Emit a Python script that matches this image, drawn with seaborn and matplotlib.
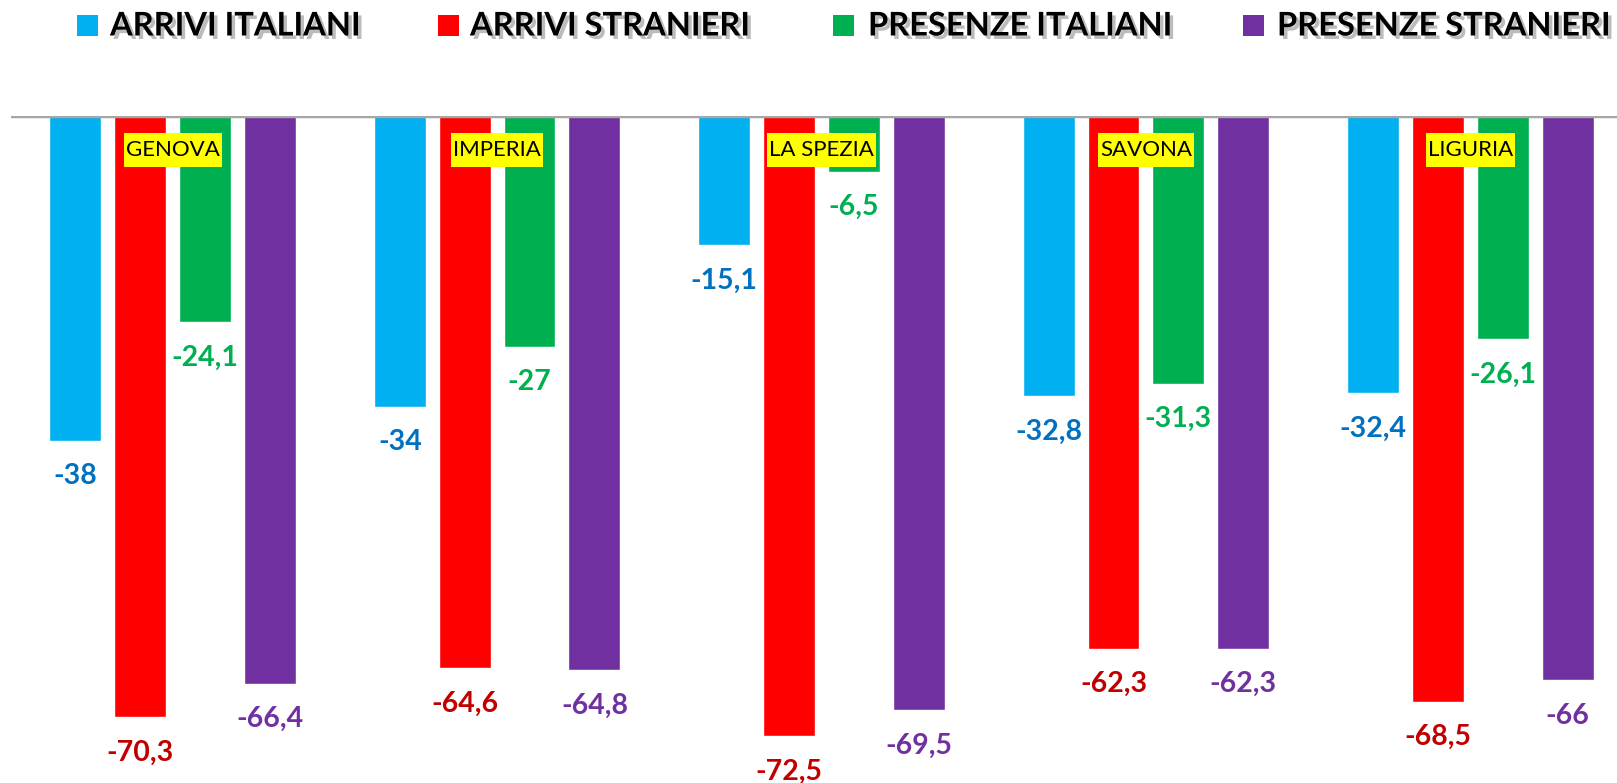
import matplotlib
matplotlib.use("Agg")
import matplotlib.pyplot as plt
import matplotlib.patheffects as pe
from matplotlib.patches import Rectangle
import seaborn as sns
import pandas as pd

categories = ["GENOVA", "IMPERIA", "LA SPEZIA", "SAVONA", "LIGURIA"]
series_names = ["ARRIVI ITALIANI", "ARRIVI STRANIERI", "PRESENZE ITALIANI", "PRESENZE STRANIERI"]
arrivi_italiani = [-38, -34, -15.1, -32.8, -32.4]
arrivi_stranieri = [-70.3, -64.6, -72.5, -62.3, -68.5]
presenze_italiani = [-24.1, -27, -6.5, -31.3, -26.1]
presenze_stranieri = [-66.4, -64.8, -69.5, -62.3, -66]

bar_colors = ["#00B0F0", "#FF0000", "#00B050", "#7030A0"]
label_colors = ["#0070C0", "#C00000", "#00B050", "#7030A0"]

values = [arrivi_italiani, arrivi_stranieri, presenze_italiani, presenze_stranieri]
rows = []
for s, vals in zip(series_names, values):
    for c, v in zip(categories, vals):
        rows.append({"cat": c, "serie": s, "val": v})
df = pd.DataFrame(rows)

sns.set_style("white")
plt.rcParams["font.family"] = ["Lato", "DejaVu Sans"]

W, H = 1617, 783
fig = plt.figure(figsize=(W / 100, H / 100), dpi=100)
ax = fig.add_axes([10.5 / W, 0, 1622 / W, 667 / H])

sns.barplot(data=df, x="cat", y="val", hue="serie", order=categories,
            hue_order=series_names, palette=bar_colors, width=0.8, gap=0.2,
            saturation=1, ax=ax, legend=True)

ax.set_xlim(-0.5, 4.5)
ax.set_ylim(-78, 0)
ax.set_xlabel("")
ax.set_ylabel("")
ax.set_xticks([])
ax.set_yticks([])
for sp in ax.spines.values():
    sp.set_visible(False)
ax.axhline(0, color="#A6A6A6", lw=2.5, zorder=5)

# value labels
for cont, col in zip(ax.containers, label_colors):
    for b in cont:
        lab = ("%g" % b.get_height()).replace(".", ",")
        ax.annotate(lab, (b.get_x() + b.get_width() / 2, b.get_height()),
                    xytext=(0, -25.5), textcoords="offset points",
                    ha="center", va="center", fontsize=20.5, fontweight="bold",
                    color=col)

# category labels with yellow boxes
renderer = fig.canvas.get_renderer()
cat_texts = []
for i, c in enumerate(categories):
    t = ax.annotate(c, (i, 0), xytext=(0, -24.5), textcoords="offset points",
                    ha="center", va="center", fontsize=16, color="black", zorder=7)
    cat_texts.append(t)
for t in cat_texts:
    bb = t.get_window_extent(renderer)
    cx = (bb.x0 + bb.x1) / 2
    wpx = bb.width + 4
    hpx = 34
    cy = H - 150
    rect = Rectangle(((cx - wpx / 2) / W, (cy - hpx / 2) / H), wpx / W, hpx / H,
                     transform=fig.transFigure, facecolor="#FFFF00", edgecolor="none",
                     zorder=6)
    ax.add_artist(rect)
    rect.set_clip_on(False)

# legend (drawn manually at reference positions)
ax.legend_.remove()
sq_x = [77, 438, 833, 1243]
tx_x = [110, 470, 868, 1277]
for name, col, sx, tx in zip(series_names, bar_colors, sq_x, tx_x):
    fig.patches.append(Rectangle((sx / W, 1 - 36 / H), 21 / W, 21 / H,
                                 transform=fig.transFigure, facecolor=col,
                                 edgecolor="none"))
    fig.text(tx / W, 1 - 26 / H, name, ha="left", va="center", fontsize=23.5,
             fontweight="bold", color="black",
             path_effects=[pe.SimplePatchShadow(offset=(2.5, -2.5), alpha=0.35,
                                                shadow_rgbFace="#404040"),
                           pe.Normal()])

fig.savefig("out.png", dpi=100)
